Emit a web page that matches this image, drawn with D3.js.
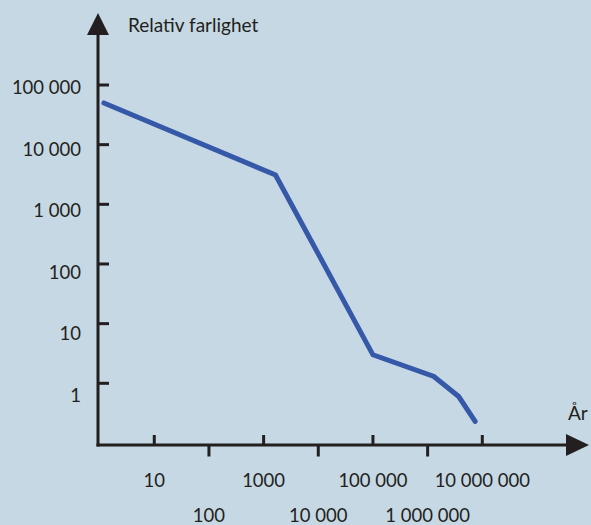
<!DOCTYPE html>
<html>
<head>
<meta charset="utf-8">
<script src="https://cdn.jsdelivr.net/npm/d3@7"></script>
<style>
  html, body { margin: 0; padding: 0; background: #c5d8e3; }
  svg { display: block; }
  text { font-family: Lato, "Open Sans", sans-serif; fill: #231f20; }
</style>
</head>
<body>
<script>
// Relative hazard of spent nuclear fuel over time (log-log)
const years  = [1.2, 1650, 100000, 1300000, 3700000, 7400000];
const hazard = [50000, 3100, 3, 1.3, 0.6, 0.23];

const yTicks = [1, 10, 100, 1000, 10000, 100000];
const yTickLabels = ["1", "10", "100", "1 000", "10 000", "100 000"];
const xTicks = [10, 100, 1000, 10000, 100000, 1000000, 10000000];
const xTickLabels = ["10", "100", "1000", "10 000", "100 000", "1 000 000", "10 000 000"];

const yTitle = "Relativ farlighet";
const xTitle = "År";

const W = 591, H = 525;
const ink = "#231f20", lineColor = "#3558a8";

const svg = d3.select("body").append("svg")
  .attr("width", W).attr("height", H);

svg.append("rect").attr("width", W).attr("height", H).attr("fill", "#c5d8e3");

const x = d3.scaleLog().domain([1, 1e7]).range([99.6, 482.3]);
const y = d3.scaleLog().domain([1, 1e5]).range([383.3, 85]);
// tick labels on the vertical axis sit on a slightly wider spacing
const yLab = y.copy().range([395, 87.5]);

const axisX0 = 98, axisY0 = 445;

// axes
svg.append("line")
  .attr("x1", axisX0).attr("x2", axisX0)
  .attr("y1", 34).attr("y2", axisY0 + 1.5)
  .attr("stroke", ink).attr("stroke-width", 3);
svg.append("path")
  .attr("d", `M${axisX0},13 L${axisX0 + 11},35 L${axisX0 - 11},35 Z`)
  .attr("fill", ink);

svg.append("line")
  .attr("x1", axisX0 - 1.5).attr("x2", 568)
  .attr("y1", axisY0).attr("y2", axisY0)
  .attr("stroke", ink).attr("stroke-width", 3);
svg.append("path")
  .attr("d", `M589,${axisY0} L566,${axisY0 - 11} L566,${axisY0 + 11} Z`)
  .attr("fill", ink);

// y ticks and labels
svg.append("g").selectAll("line").data(yTicks).join("line")
  .attr("x1", axisX0).attr("x2", 109)
  .attr("y1", d => y(d)).attr("y2", d => y(d))
  .attr("stroke", ink).attr("stroke-width", 3);
svg.append("g").selectAll("text").data(yTicks).join("text")
  .attr("x", 81).attr("y", d => yLab(d))
  .attr("dy", "0.36em")
  .attr("text-anchor", "end")
  .attr("font-size", 18.5)
  .text((d, i) => yTickLabels[i]);

// x ticks: odd powers point up, even powers point down, labels in two rows
const upper = (d) => Math.round(Math.log10(d)) % 2 === 1;
svg.append("g").selectAll("line").data(xTicks).join("line")
  .attr("x1", d => x(d)).attr("x2", d => x(d))
  .attr("y1", d => upper(d) ? 435 : axisY0)
  .attr("y2", d => upper(d) ? axisY0 : 456.5)
  .attr("stroke", ink).attr("stroke-width", 3);
svg.append("g").selectAll("text").data(xTicks).join("text")
  .attr("x", d => x(d))
  .attr("y", d => upper(d) ? 486.5 : 522)
  .attr("text-anchor", "middle")
  .attr("font-size", 18.5)
  .text((d, i) => xTickLabels[i]);

// axis titles
svg.append("text").attr("x", 128).attr("y", 32)
  .attr("font-size", 19).text(yTitle);
svg.append("text").attr("x", 568).attr("y", 419.5)
  .attr("font-size", 19).text(xTitle);

// hazard curve
const pts = years.map((d, i) => [d, hazard[i]]);
svg.append("path")
  .datum(pts)
  .attr("d", d3.line().x(d => x(d[0])).y(d => y(d[1])))
  .attr("fill", "none")
  .attr("stroke", lineColor)
  .attr("stroke-width", 5)
  .attr("stroke-linejoin", "miter")
  .attr("stroke-linecap", "round");
</script>
</body>
</html>
